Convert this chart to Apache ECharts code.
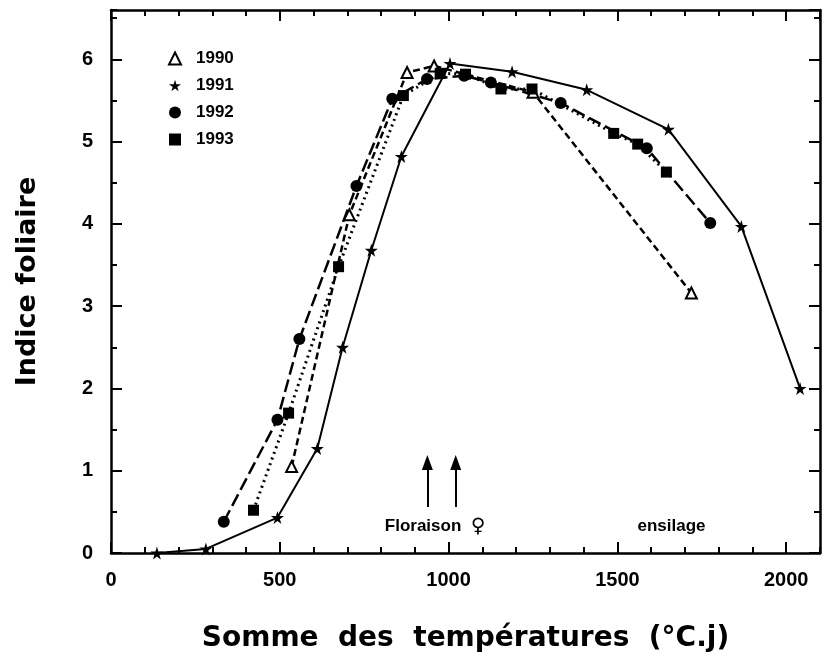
<!DOCTYPE html>
<html>
<head>
<meta charset="utf-8">
<script src="https://cdn.jsdelivr.net/npm/echarts@6/dist/echarts.min.js"></script>
<style>
  html, body { margin: 0; padding: 0; background: #fff; }
  #chart { width: 827px; height: 668px; }
</style>
</head>
<body>
<div id="chart"></div>
<script>
// values: [somme des températures, indice foliaire]
const years = ['1990', '1991', '1992', '1993'];
const data1990 = [[535, 1.05], [706, 4.11], [877, 5.84], [957, 5.92], [1250, 5.6], [1719, 3.16]];
const data1991 = [[136, 0.0], [281, 0.05], [493, 0.43], [611, 1.27], [686, 2.5], [771, 3.68], [860, 4.82],
                  [1004, 5.95], [1188, 5.85], [1409, 5.63], [1651, 5.15], [1867, 3.97], [2041, 2.0]];
const data1992 = [[334, 0.38], [493, 1.62], [558, 2.6], [727, 4.46], [833, 5.52], [936, 5.76], [1046, 5.8],
                  [1125, 5.72], [1332, 5.47], [1587, 4.92], [1775, 4.01]];
const data1993 = [[422, 0.52], [526, 1.7], [674, 3.48], [866, 5.56], [975, 5.83], [1050, 5.82], [1155, 5.64],
                  [1247, 5.64], [1489, 5.1], [1560, 4.97], [1645, 4.63]];
const arrowsX = [937, 1021];
const notes = [{ text: 'Floraison', sign: '♀', x: 960, y: 0.32 }, { text: 'ensilage', sign: '', x: 1660, y: 0.32 }];

const xMax = 2100, yMax = 6.6;
const star = 'path://M50,0 L61,35 L98,35 L68,57 L79,91 L50,70 L21,91 L32,57 L2,35 L39,35 Z';
const font = 'Liberation Sans';
const gridBox = { left: 111, right: 7, top: 10, bottom: 115 };

const chart = echarts.init(document.getElementById('chart'), null, { renderer: 'canvas' });

// grid 0 carries the major ticks (and the frame), grid 1 on top of it the minor ones
function xAx(grid, pos, interval, len) {
  const major = grid === 0;
  return {
    type: 'value', gridIndex: grid, position: pos, min: 0, max: xMax, interval: interval,
    axisLine: { show: major, onZero: false, lineStyle: { color: '#000', width: 2.5 } },
    axisTick: { show: true, inside: true, length: len, lineStyle: { color: '#000', width: 2 } },
    axisLabel: { show: major && pos === 'bottom', showMaxLabel: false, color: '#000', fontFamily: font,
                 fontWeight: 'bold', fontSize: 20, margin: 17, formatter: v => String(v) },
    splitLine: { show: false }
  };
}
function yAx(grid, pos, interval, len) {
  const major = grid === 0;
  return {
    type: 'value', gridIndex: grid, position: pos, min: 0, max: yMax, interval: interval,
    axisLine: { show: major, onZero: false, lineStyle: { color: '#000', width: 2.5 } },
    axisTick: { show: true, inside: true, length: len, lineStyle: { color: '#000', width: 2 } },
    axisLabel: { show: major && pos === 'left', showMaxLabel: false, color: '#000', fontFamily: font,
                 fontWeight: 'bold', fontSize: 20, margin: 18, formatter: v => String(v) },
    splitLine: { show: false }
  };
}

const xAxes = [xAx(0, 'bottom', 500, 11), xAx(0, 'top', 500, 11),
               xAx(1, 'bottom', 100, 6), xAx(1, 'top', 100, 6)];
const yAxes = [yAx(0, 'left', 1, 11), yAx(0, 'right', 1, 11),
               yAx(1, 'left', 0.5, 6), yAx(1, 'right', 0.5, 6)];
xAxes[0].name = 'Somme  des  températures  (°C.j)';
xAxes[0].nameLocation = 'middle';
xAxes[0].nameGap = 72;
xAxes[0].nameTextStyle = { color: '#000', fontFamily: 'DejaVu Sans', fontWeight: 'bold', fontSize: 28 };
yAxes[0].name = 'Indice foliaire';
yAxes[0].nameLocation = 'middle';
yAxes[0].nameGap = 70;
yAxes[0].nameTextStyle = { color: '#000', fontFamily: 'DejaVu Sans', fontWeight: 'bold', fontSize: 27 };

function line(name, data, symbol, size, lineType, width) {
  return {
    name: name, type: 'line', data: data, symbol: symbol, symbolSize: size,
    itemStyle: { color: '#000', borderColor: '#000', borderWidth: symbol === 'emptyTriangle' ? 2 : 0 },
    lineStyle: { color: '#000', width: width, type: lineType },
    emphasis: { disabled: true }, z: 3
  };
}

const s1990 = line('1990', data1990, 'emptyTriangle', 11, [7, 4], 2.5);
const s1991 = line('1991', data1991, star, 13, 'solid', 2);
const s1992 = line('1992', data1992, 'circle', 12, [13, 5], 2.5);
const s1993 = line('1993', data1993, 'rect', 11, [2, 4], 3);

s1991.markLine = {
  silent: true, symbol: ['none', 'triangle'], symbolSize: [11, 15],
  lineStyle: { color: '#000', width: 2, type: 'solid' }, label: { show: false },
  data: arrowsX.map(x => [{ coord: [x, 0.56] }, { coord: [x, 1.1] }])
};
s1991.markPoint = {
  silent: true, symbolSize: 0,
  label: {
    show: true, color: '#000', fontFamily: font, fontWeight: 'bold', fontSize: 17,
    formatter: p => p.data.sign ? p.name + '  {s|' + p.data.sign + '}' : p.name,
    rich: { s: { fontFamily: 'DejaVu Sans', fontWeight: 'bold', fontSize: 20, color: '#000' } }
  },
  data: notes.map(n => ({ name: n.text, sign: n.sign, coord: [n.x, n.y] }))
};

chart.setOption({
  animation: false,
  backgroundColor: '#fff',
  grid: [Object.assign({}, gridBox), Object.assign({}, gridBox)],
  legend: {
    orient: 'vertical', left: 163, top: 45, itemGap: 10, itemWidth: 12, itemHeight: 12,
    textStyle: { color: '#000', fontFamily: font, fontSize: 17, fontWeight: 'bold', padding: [0, 0, 0, 10] },
    data: [{ name: '1990', icon: 'emptyTriangle' }, { name: '1991', icon: star },
           { name: '1992', icon: 'circle' }, { name: '1993', icon: 'rect' }]
  },
  xAxis: xAxes,
  yAxis: yAxes,
  series: [s1991, s1990, s1992, s1993]
});
</script>
</body>
</html>
